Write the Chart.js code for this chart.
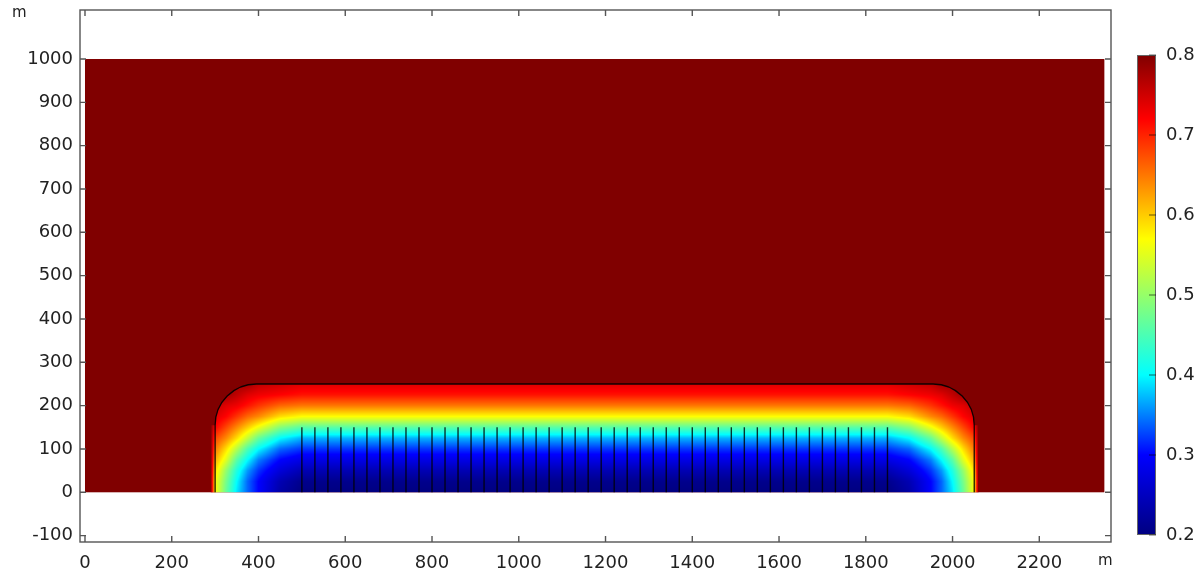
<!DOCTYPE html>
<html>
<head>
<meta charset="utf-8">
<script src="https://cdn.jsdelivr.net/npm/chart.js@4.4.1/dist/chart.umd.min.js"></script>
<style>
  html, body { margin: 0; padding: 0; background: #fff; }
</style>
</head>
<body>
<canvas id="field" width="1204" height="573"></canvas>
<script>
// axis ticks
var xTicks = [0, 200, 400, 600, 800, 1000, 1200, 1400, 1600, 1800, 2000, 2200];
var yTicks = [-100, 0, 100, 200, 300, 400, 500, 600, 700, 800, 900, 1000];
var cbTicks = [0.2, 0.3, 0.4, 0.5, 0.6, 0.7, 0.8];

// model geometry (m)
var domainX = [0, 2350];
var domainY = [0, 1000];
var blobX = [300, 2050];
var blobTop = 250;
var blobCorner = 95;
var backgroundValue = 0.8;

// rods
var rodX = [500, 530, 560, 590, 620, 650, 680, 710, 740, 770, 800, 830, 860, 890, 920, 950,
            980, 1010, 1040, 1070, 1100, 1130, 1160, 1190, 1220, 1250, 1280, 1310, 1340, 1370,
            1400, 1430, 1460, 1490, 1520, 1550, 1580, 1610, 1640, 1670, 1700, 1730, 1760, 1790,
            1820, 1850];
var rodTop = 150;

// field samples
var fieldX = [290, 300, 325, 350, 375, 400, 450, 500, 1850, 1900, 1950, 1975, 2000, 2025, 2050, 2060];
var fieldY = [0, 25, 50, 75, 100, 125, 150, 175, 200, 225, 250];
var fieldRows = [
  [0.80, 0.57, 0.47, 0.39, 0.34, 0.30, 0.23, 0.20, 0.20, 0.23, 0.30, 0.34, 0.39, 0.47, 0.57, 0.80],
  [0.80, 0.57, 0.48, 0.40, 0.34, 0.30, 0.24, 0.21, 0.21, 0.24, 0.30, 0.34, 0.40, 0.48, 0.57, 0.80],
  [0.80, 0.59, 0.50, 0.42, 0.36, 0.32, 0.27, 0.24, 0.24, 0.27, 0.32, 0.36, 0.42, 0.50, 0.59, 0.80],
  [0.80, 0.62, 0.55, 0.46, 0.40, 0.35, 0.30, 0.28, 0.28, 0.30, 0.35, 0.40, 0.46, 0.55, 0.62, 0.80],
  [0.80, 0.65, 0.59, 0.52, 0.45, 0.40, 0.34, 0.32, 0.32, 0.34, 0.40, 0.45, 0.52, 0.59, 0.65, 0.80],
  [0.80, 0.68, 0.64, 0.59, 0.53, 0.47, 0.40, 0.37, 0.37, 0.40, 0.47, 0.53, 0.59, 0.64, 0.68, 0.80],
  [0.80, 0.72, 0.68, 0.64, 0.60, 0.56, 0.49, 0.46, 0.46, 0.49, 0.56, 0.60, 0.64, 0.68, 0.72, 0.80],
  [0.80, 0.74, 0.72, 0.69, 0.66, 0.64, 0.59, 0.57, 0.57, 0.59, 0.64, 0.66, 0.69, 0.72, 0.74, 0.80],
  [0.80, 0.76, 0.74, 0.73, 0.71, 0.69, 0.66, 0.65, 0.65, 0.66, 0.69, 0.71, 0.73, 0.74, 0.76, 0.80],
  [0.80, 0.79, 0.78, 0.76, 0.74, 0.73, 0.72, 0.71, 0.71, 0.72, 0.73, 0.74, 0.76, 0.78, 0.79, 0.80],
  [0.80, 0.80, 0.79, 0.78, 0.78, 0.76, 0.75, 0.74, 0.74, 0.75, 0.76, 0.78, 0.78, 0.79, 0.80, 0.80]
];

// colour map (rainbow)
var cmap = [
  [0.20, [0, 0, 128]],
  [0.30, [0, 0, 255]],
  [0.40, [0, 255, 255]],
  [0.57, [255, 255, 0]],
  [0.72, [255, 0, 0]],
  [0.80, [128, 0, 0]]
];
var FONT = '"DejaVu Sans", sans-serif';
var TEXT = '#222';

function colorAt(v) {
  if (v <= cmap[0][0]) return cmap[0][1];
  for (var i = 1; i < cmap.length; i++) {
    if (v <= cmap[i][0]) {
      var a = cmap[i - 1], b = cmap[i];
      var t = (v - a[0]) / (b[0] - a[0]);
      return [0, 1, 2].map(function (k) { return Math.round(a[1][k] + (b[1][k] - a[1][k]) * t); });
    }
  }
  return cmap[cmap.length - 1][1];
}

function findCell(arr, v) {
  if (v <= arr[0]) return [0, 0];
  for (var i = 0; i < arr.length - 1; i++) {
    if (v <= arr[i + 1]) return [i, (v - arr[i]) / (arr[i + 1] - arr[i])];
  }
  return [arr.length - 2, 1];
}

function fieldAt(x, y) {
  var cx = findCell(fieldX, x), cy = findCell(fieldY, y);
  var i = cx[0], tx = cx[1], j = cy[0], ty = cy[1];
  var r0 = fieldRows[j], r1 = fieldRows[j + 1];
  var a = r0[i] + (r0[i + 1] - r0[i]) * tx;
  var b = r1[i] + (r1[i + 1] - r1[i]) * tx;
  return a + (b - a) * ty;
}

function blobPath(ctx, xs, ys) {
  var xl = xs.getPixelForValue(blobX[0]), xr = xs.getPixelForValue(blobX[1]);
  var yb = ys.getPixelForValue(0), yt = ys.getPixelForValue(blobTop);
  var r = xs.getPixelForValue(blobCorner) - xs.getPixelForValue(0);
  ctx.moveTo(xl, yb);
  ctx.lineTo(xl, yt + r);
  ctx.arcTo(xl, yt, xl + r, yt, r);
  ctx.lineTo(xr - r, yt);
  ctx.arcTo(xr, yt, xr, yt + r, r);
  ctx.lineTo(xr, yb);
}

var fieldPlugin = {
  id: 'fieldPlugin',
  beforeDatasetsDraw: function (chart) {
    var ctx = chart.ctx, area = chart.chartArea;
    var xs = chart.scales.x, ys = chart.scales.y;
    ctx.save();
    ctx.beginPath();
    ctx.rect(area.left, area.top, area.right - area.left, area.bottom - area.top);
    ctx.clip();

    var c = colorAt(backgroundValue);
    var dx0 = xs.getPixelForValue(domainX[0]), dx1 = xs.getPixelForValue(domainX[1]);
    var dy0 = ys.getPixelForValue(domainY[0]), dy1 = ys.getPixelForValue(domainY[1]);
    ctx.fillStyle = 'rgb(' + c.join(',') + ')';
    ctx.fillRect(dx0, dy1, dx1 - dx0, dy0 - dy1);

    // rasterise the field through the scales
    var left = Math.floor(xs.getPixelForValue(fieldX[0]));
    var right = Math.ceil(xs.getPixelForValue(fieldX[fieldX.length - 1]));
    var top = Math.floor(ys.getPixelForValue(fieldY[fieldY.length - 1]));
    var bottom = Math.ceil(ys.getPixelForValue(fieldY[0]));
    var w = right - left, h = bottom - top;
    var off = document.createElement('canvas');
    off.width = w; off.height = h;
    var octx = off.getContext('2d');
    var img = octx.createImageData(w, h);
    for (var j = 0; j < h; j++) {
      var vy = ys.getValueForPixel(top + j + 0.5);
      for (var i = 0; i < w; i++) {
        var vx = xs.getValueForPixel(left + i + 0.5);
        var col = colorAt(fieldAt(vx, vy));
        var k = (j * w + i) * 4;
        img.data[k] = col[0]; img.data[k + 1] = col[1]; img.data[k + 2] = col[2]; img.data[k + 3] = 255;
      }
    }
    octx.putImageData(img, 0, 0);

    var yb = ys.getPixelForValue(0), ye = ys.getPixelForValue(blobTop - blobCorner);
    var sl0 = xs.getPixelForValue(fieldX[0]), sl1 = xs.getPixelForValue(blobX[0]);
    var sr0 = xs.getPixelForValue(blobX[1]), sr1 = xs.getPixelForValue(fieldX[fieldX.length - 1]);
    ctx.beginPath();
    blobPath(ctx, xs, ys);
    ctx.closePath();
    ctx.rect(sl0, ye, sl1 - sl0, yb - ye);
    ctx.rect(sr0, ye, sr1 - sr0, yb - ye);
    ctx.clip();
    ctx.drawImage(off, left, top);
    ctx.restore();
  },
  afterDatasetsDraw: function (chart) {
    var ctx = chart.ctx;
    ctx.save();
    ctx.beginPath();
    blobPath(ctx, chart.scales.x, chart.scales.y);
    ctx.strokeStyle = 'rgba(0,0,0,0.9)';
    ctx.lineWidth = 1.3;
    ctx.stroke();
    ctx.restore();
  },
  afterDraw: function (chart) {
    var ctx = chart.ctx, a = chart.chartArea;
    var xs = chart.scales.x, ys = chart.scales.y;
    ctx.save();
    // frame
    ctx.strokeStyle = '#555';
    ctx.lineWidth = 1.4;
    ctx.strokeRect(a.left, a.top, a.right - a.left, a.bottom - a.top);
    // inward ticks on all four sides
    ctx.beginPath();
    xs.ticks.forEach(function (t) {
      var p = xs.getPixelForValue(t.value);
      ctx.moveTo(p, a.bottom); ctx.lineTo(p, a.bottom - 6);
      ctx.moveTo(p, a.top); ctx.lineTo(p, a.top + 6);
    });
    ys.ticks.forEach(function (t) {
      var p = ys.getPixelForValue(t.value);
      ctx.moveTo(a.left, p); ctx.lineTo(a.left + 6, p);
      ctx.moveTo(a.right, p); ctx.lineTo(a.right - 6, p);
    });
    ctx.stroke();

    // units
    ctx.fillStyle = TEXT;
    ctx.font = '15px ' + FONT;
    ctx.textBaseline = 'middle';
    ctx.textAlign = 'left';
    ctx.fillText('m', 12, 13);
    ctx.fillText('m', a.right - 13, 561);

    // colour bar
    var cbL = a.right + 26, cbW = 19, cbT = 55, cbB = 535;
    var lo = cbTicks[0], hi = cbTicks[cbTicks.length - 1];
    var g = ctx.createLinearGradient(0, cbB, 0, cbT);
    cmap.forEach(function (s) {
      g.addColorStop((s[0] - lo) / (hi - lo), 'rgb(' + s[1].join(',') + ')');
    });
    ctx.fillStyle = g;
    ctx.fillRect(cbL, cbT, cbW, cbB - cbT);
    ctx.strokeStyle = '#666';
    ctx.lineWidth = 1;
    ctx.strokeRect(cbL + 0.5, cbT + 0.5, cbW - 1, cbB - cbT - 1);
    ctx.font = '18px ' + FONT;
    ctx.fillStyle = TEXT;
    ctx.beginPath();
    cbTicks.forEach(function (v) {
      var p = cbB - (v - lo) / (hi - lo) * (cbB - cbT);
      ctx.moveTo(cbL + cbW - 7, p); ctx.lineTo(cbL + cbW, p);
      ctx.fillText(v.toFixed(1), cbL + cbW + 10, p);
    });
    ctx.strokeStyle = 'rgba(0,0,0,0.6)';
    ctx.stroke();
    ctx.restore();
  }
};

var rodData = [];
rodX.forEach(function (x) {
  rodData.push({ x: x, y: 0 }, { x: x, y: rodTop }, { x: x, y: null });
});

var plain = function (v) { return String(v); };

var ctx = document.getElementById('field').getContext('2d');
var chart = new Chart(ctx, {
  type: 'line',
  data: {
    datasets: [{
      label: 'rods',
      data: rodData,
      borderColor: 'rgba(0,0,0,0.8)',
      borderWidth: 1.4,
      pointRadius: 0,
      spanGaps: false,
      tension: 0
    }]
  },
  options: {
    responsive: false,
    devicePixelRatio: 1,
    animation: false,
    events: [],
    layout: { padding: { top: 10, right: 93, left: 0, bottom: 0 } },
    plugins: { legend: { display: false }, tooltip: { enabled: false } },
    scales: {
      x: {
        type: 'linear',
        min: -11.5,
        max: 2365.3,
        afterBuildTicks: function (s) { s.ticks = xTicks.map(function (v) { return { value: v }; }); },
        afterFit: function (s) { s.height = 31; s.paddingLeft = 0; s.paddingRight = 0; },
        grid: { display: false, drawTicks: false },
        border: { display: false },
        ticks: { padding: 11, color: TEXT, font: { family: FONT, size: 18 }, maxRotation: 0, callback: plain }
      },
      y: {
        type: 'linear',
        min: -114.7,
        max: 1113.1,
        afterBuildTicks: function (s) { s.ticks = yTicks.map(function (v) { return { value: v }; }); },
        afterFit: function (s) { s.width = 80; s.paddingTop = 0; s.paddingBottom = 0; },
        grid: { display: false, drawTicks: false },
        border: { display: false },
        ticks: { padding: 7, color: TEXT, font: { family: FONT, size: 18 }, callback: plain }
      }
    }
  },
  plugins: [fieldPlugin]
});
</script>
</body>
</html>
